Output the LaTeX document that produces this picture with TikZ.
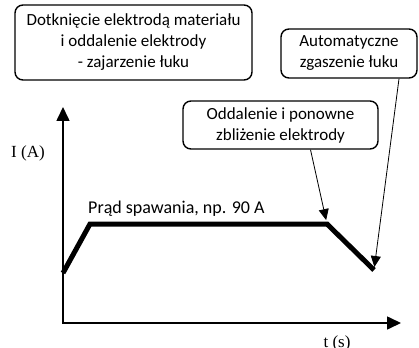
\documentclass[tikz,border=0pt]{standalone}
\usepackage{fontspec}
\setmainfont{Carlito}
\newfontfamily\tnr{Liberation Serif}
\usetikzlibrary{arrows.meta}
\begin{document}
\begin{tikzpicture}[x=1pt,y=-1pt,
  callout/.style={draw, line width=1.4pt, rounded corners=8pt, align=center,
    font=\fontsize{17}{21}\selectfont, inner sep=0pt},
  axis/.style={line width=1.6pt, {Triangle[length=14pt,width=13pt]}-{Triangle[length=14pt,width=13pt]}},
  curve/.style={line width=5pt, line join=miter},
  pointer/.style={line width=0.8pt, -{Triangle[length=11pt,width=10pt]}},
  axlabel/.style={font=\tnr\fontsize{17}{19}\selectfont, inner sep=0pt},
  curlabel/.style={font=\fontsize{18}{21}\selectfont, inner sep=0pt}]
\useasboundingbox (0,0) rectangle (419,347);
\node[callout, minimum width=237, minimum height=75] (b1) at (133.5,42.5)
  {Dotknięcie elektrodą materiału\\ i oddalenie elektrody\\ - zajarzenie łuku};
\node[callout, minimum width=136, minimum height=49] (b2) at (349,53.5)
  {Automatyczne\\ zgaszenie łuku};
\node[callout, minimum width=195, minimum height=48] (b3) at (280.5,125)
  {Oddalenie i ponowne\\ zbliżenie elektrody};
\coordinate (O) at (63,323);
\coordinate (ytip) at (63,107);
\coordinate (xtip) at (401,323);
\draw[axis] (ytip) -- (O) -- (xtip);
\coordinate (c0) at (63,273);
\coordinate (c1) at (90,224);
\coordinate (c2) at (327,224);
\coordinate (c3) at (374,270);
\draw[curve] (c0) -- (c1) -- (c2) -- (c3);
\node[curlabel, anchor=base west] (cur) at (88,213) {Prąd spawania, np. 90 A};
\node[axlabel] (ia) at (28,153) {I (A)};
\node[axlabel] (ts) at (337,343) {t (s)};
\draw[pointer, shorten >=4pt] ([xshift=30pt]b3.south) -- (c2);
\draw[pointer, shorten >=3pt] ([xshift=50pt]b2.south) -- (c3);
\end{tikzpicture}
\end{document}
